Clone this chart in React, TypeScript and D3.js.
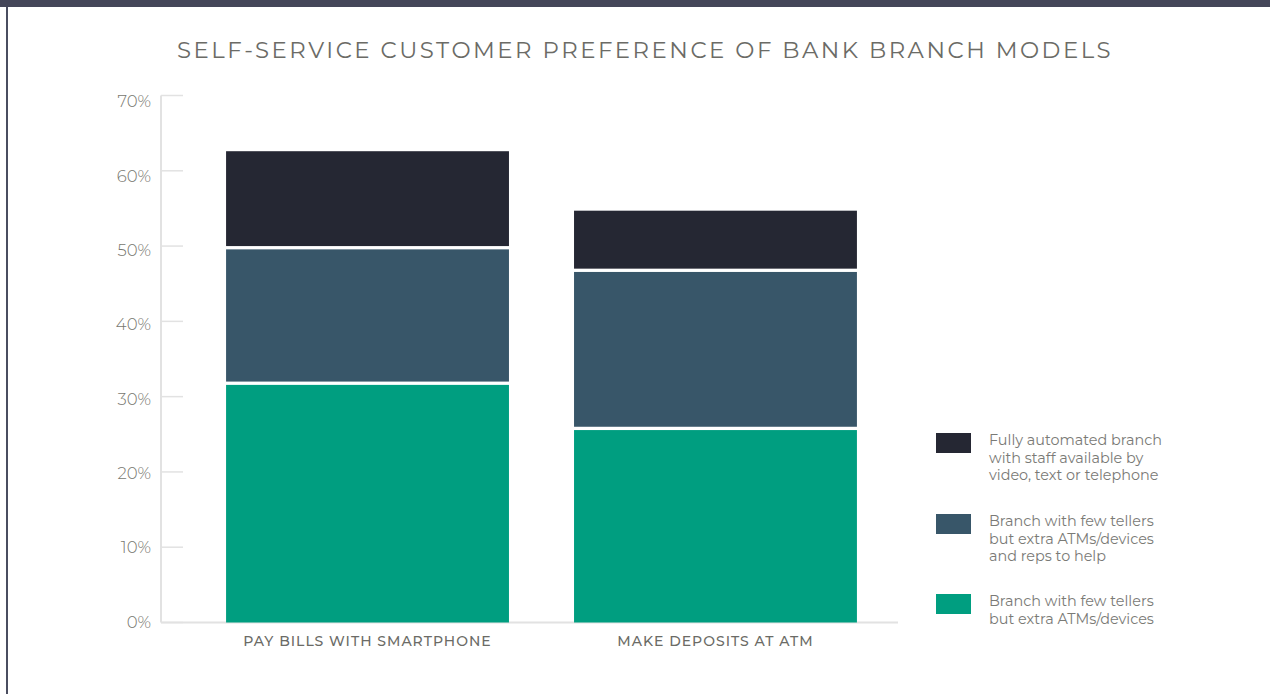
import React from "react";
import * as d3 from "d3";

const categories = ["PAY BILLS WITH SMARTPHONE", "MAKE DEPOSITS AT ATM"];
const seriesNames = [
  "Branch with few tellers but extra ATMs/devices",
  "Branch with few tellers but extra ATMs/devices and reps to help",
  "Fully automated branch with staff available by video, text or telephone",
];
const tellersAtms = [32.0, 26.0];
const tellersReps = [18.0, 21.0];
const automated = [12.6, 7.7];
const yTicks = [0, 10, 20, 30, 40, 50, 60, 70];
const colors = ["#009e80", "#385669", "#252733"];
const legendLines = [
  ["Fully automated branch", "with staff available by", "video, text or telephone"],
  ["Branch with few tellers", "but extra ATMs/devices", "and reps to help"],
  ["Branch with few tellers", "but extra ATMs/devices"],
];

const W = 1270;
const H = 694;
const FONT = "Montserrat, 'Open Sans', 'Noto Sans', sans-serif";

export default function App() {
  const y = d3.scaleLinear().domain([0, 70]).range([622.5, 95.5]);
  const yLab = d3.scaleLinear().domain([0, 70]).range([622, 101.5]);
  const x = d3
    .scaleBand()
    .domain(categories)
    .range([161, 922])
    .paddingInner(0.187)
    .paddingOuter(0.187);

  const table = categories.map((c, i) => ({
    cat: c,
    s0: tellersAtms[i],
    s1: tellersReps[i],
    s2: automated[i],
  }));
  const stack = d3.stack<any>().keys(["s0", "s1", "s2"])(table);

  const legendOrder = [2, 1, 0];
  const legendY = [433, 514, 594];
  const gap = 3.3;

  return (
    <svg width={W} height={H} style={{ position: "fixed", left: 0, top: 0 }}>
      <rect x={0} y={0} width={W} height={H} fill="#fff" />
      <rect x={0} y={0} width={W} height={7} fill="#444659" />
      <rect x={6} y={7} width={2} height={H - 7} fill="#4a4d60" />
      <text
        x={645}
        y={58}
        textAnchor="middle"
        fontFamily={FONT}
        fontSize={22.8}
        letterSpacing={2.5}
        fill="#6b6b66"
      >
        SELF-SERVICE CUSTOMER PREFERENCE OF BANK BRANCH MODELS
      </text>

      {/* y axis */}
      <line x1={161} x2={161} y1={y(70)} y2={y(0)} stroke="#e2e2e2" strokeWidth={2} />
      {yTicks.map((t) => (
        <g key={t}>
          <line x1={161} x2={183} y1={y(t)} y2={y(t)} stroke="#e2e2e2" strokeWidth={1.5} />
          <text
            x={151}
            y={yLab(t)}
            dy="0.35em"
            textAnchor="end"
            fontFamily={FONT}
            fontSize={16.5}
            fontWeight={300}
            fill="#77776f"
          >
            {t}%
          </text>
        </g>
      ))}
      <line x1={161} x2={898} y1={y(0)} y2={y(0)} stroke="#e2e2e2" strokeWidth={2} />

      {/* bars */}
      {stack.map((layer, li) => (
        <g key={li}>
          {layer.map((d, i) => {
            const top = y(d[1]) + (li < 2 ? gap : 0);
            const bot = y(d[0]);
            return (
              <rect
                key={i}
                x={x(categories[i])!}
                width={x.bandwidth()}
                y={top}
                height={bot - top}
                fill={colors[li]}
              />
            );
          })}
        </g>
      ))}

      {/* x labels */}
      {categories.map((c) => (
        <text
          key={c}
          x={x(c)! + x.bandwidth() / 2}
          y={646}
          textAnchor="middle"
          fontFamily={FONT}
          fontSize={14}
          fontWeight={500}
          letterSpacing={1}
          fill="#6b6b66"
        >
          {c}
        </text>
      ))}

      {/* legend */}
      {legendOrder.map((si, k) => (
        <g key={si}>
          <rect x={936} y={legendY[k]} width={35} height={20} fill={colors[si]} />
          {legendLines[k].map((ln, j) => (
            <text
              key={j}
              x={989}
              y={legendY[k] + 12 + j * 17.5}
              fontFamily={FONT}
              fontSize={14.4}
              fill="#7a7a76"
            >
              {ln}
            </text>
          ))}
        </g>
      ))}
      <title>{seriesNames.join("; ")}</title>
    </svg>
  );
}
